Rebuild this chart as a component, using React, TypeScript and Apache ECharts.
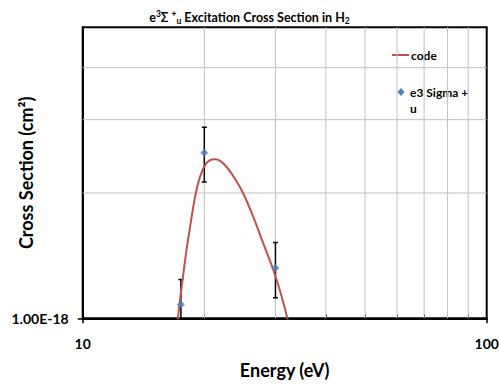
import React, { useEffect, useRef } from 'react';
import * as echarts from 'echarts';

// Model curve ("code")
const curveEnergy = [17.18, 17.41, 17.75, 18.09, 18.44, 18.97, 19.51, 20.08, 20.66, 21.26, 21.88, 22.72, 23.82, 24.98, 26.44, 27.99, 29.64, 31.09, 32.3];
const curveSigma = [0.99e-18, 1.106e-18, 1.282e-18, 1.47e-18, 1.658e-18, 1.957e-18, 2.186e-18, 2.332e-18, 2.397e-18, 2.41e-18, 2.388e-18, 2.309e-18, 2.164e-18, 1.994e-18, 1.752e-18, 1.513e-18, 1.306e-18, 1.127e-18, 0.98e-18];

// Measured points ("e3 Sigma + u")
const expEnergy = [17.5, 20, 30];
const expSigma = [1.08e-18, 2.5e-18, 1.32e-18];
const expError = [0.16e-18, 0.375e-18, 0.2e-18];

// Axis ticks / grid
const xMin = 10;
const xMax = 100;
const yMin = 1e-18;
const yMax = 5e-18;
const xMajorTicks = [10, 100];
const xMinorTicks = [20, 30, 40, 50, 60, 70, 80, 90];
const yGridValues = [2e-18, 3e-18, 4e-18];
const yTickLabels = [1e-18];

const FONT = 'Lato';
const GRID_COLOR = '#c0c0c0';

export default function App() {
  const ref = useRef<HTMLDivElement>(null);
  useEffect(() => {
    if (!ref.current) return;
    const chart = echarts.init(ref.current, null, { renderer: 'svg' });
    const baseX = { type: 'log', logBase: 10, min: xMin, max: xMax };
    chart.setOption({
      animation: false,
      backgroundColor: '#fff',
      title: {
        left: 'center',
        top: 4,
        text: '{n|e}{sup|3}{n|Σ }{sup|+}{sub|u}{n| Excitation Cross Section in H}{sub|2}',
        textStyle: {
          rich: {
            n: { fontFamily: FONT, fontWeight: 'bold', fontSize: 12.5, color: '#000', lineHeight: 16 },
            sup: { fontFamily: FONT, fontWeight: 'bold', fontSize: 8.5, color: '#000', lineHeight: 8, padding: [0, 0, 7, 0] },
            sub: { fontFamily: FONT, fontWeight: 'bold', fontSize: 8.5, color: '#000', lineHeight: 8, padding: [7, 0, 0, 0] },
          },
        },
      },
      grid: {
        left: 82.7, right: 12.3, top: 27.3, bottom: 67.7,
        containLabel: false,
        outerBoundsMode: 'none',
        show: true, borderColor: '#000', borderWidth: 2, backgroundColor: 'transparent',
      },
      xAxis: [
        {
          ...baseX,
          position: 'bottom',
          name: 'Energy (eV)',
          nameLocation: 'middle',
          nameGap: 43,
          nameMoveOverlap: false,
          nameTextStyle: { fontFamily: FONT, fontWeight: 'bold', fontSize: 18, color: '#000' },
          axisLine: { show: true, lineStyle: { color: '#000', width: 2 } },
          axisTick: { show: true, customValues: xMajorTicks, length: 5, lineStyle: { color: '#000', width: 1.5 } },
          axisLabel: { customValues: xMajorTicks, fontFamily: FONT, fontWeight: 'bold', fontSize: 14, color: '#000', margin: 18 },
          splitLine: { show: false },
        },
        {
          ...baseX,
          position: 'bottom',
          axisLine: { show: false },
          axisTick: { show: true, customValues: xMinorTicks, inside: true, length: 4, lineStyle: { color: '#000', width: 1 } },
          axisLabel: { show: false },
          splitLine: { show: false },
        },
      ],
      yAxis: {
        type: 'log', logBase: 10, min: yMin, max: yMax,
        name: 'Cross Section (cm²)',
        nameLocation: 'middle',
        nameRotate: 90,
        nameGap: 48,
        nameMoveOverlap: false,
        nameTextStyle: { fontFamily: FONT, fontWeight: 'bold', fontSize: 18, color: '#000' },
        axisLine: { show: true, lineStyle: { color: '#000', width: 2 } },
        axisTick: { show: true, customValues: yTickLabels, length: 5, lineStyle: { color: '#000', width: 1.5 } },
        axisLabel: {
          customValues: yTickLabels,
          fontFamily: FONT, fontWeight: 'bold', fontSize: 14, color: '#000', margin: 14,
          formatter: (v: number) => v.toExponential(2).toUpperCase(),
        },
        splitLine: { show: false },
      },
      graphic: [
        { type: 'line', shape: { x1: 392, y1: 55, x2: 409, y2: 55 }, style: { stroke: '#C0504D', lineWidth: 2 } },
        { type: 'text', x: 411, y: 55, style: { text: 'code', fontFamily: FONT, fontWeight: 'bold', fontSize: 12, fill: '#000', verticalAlign: 'middle' } },
        { type: 'polygon', shape: { points: [[401, 88], [404.5, 92], [401, 96], [397.5, 92]] }, style: { fill: '#4F81BD' } },
        { type: 'text', x: 410, y: 84, style: { text: 'e3 Sigma +\nu', fontFamily: FONT, fontWeight: 'bold', fontSize: 12, lineHeight: 16, fill: '#000', verticalAlign: 'top' } },
      ],
      series: [
        {
          type: 'custom',
          name: 'vgrid',
          silent: true,
          z: 1,
          data: xMinorTicks.map((v) => [v, yMin]),
          encode: { x: 0, y: 1 },
          renderItem: (params: any, api: any) => {
            const cs = params.coordSys;
            const p = api.coord([api.value(0), api.value(1)]);
            return { type: 'line', shape: { x1: p[0], y1: cs.y, x2: p[0], y2: cs.y + cs.height }, style: { stroke: GRID_COLOR, lineWidth: 1 } };
          },
        },
        {
          type: 'custom',
          name: 'hgrid',
          silent: true,
          z: 1,
          data: yGridValues.map((v) => [xMin, v]),
          encode: { x: 0, y: 1 },
          renderItem: (params: any, api: any) => {
            const cs = params.coordSys;
            const p = api.coord([api.value(0), api.value(1)]);
            return { type: 'line', shape: { x1: cs.x, y1: p[1], x2: cs.x + cs.width, y2: p[1] }, style: { stroke: GRID_COLOR, lineWidth: 1 } };
          },
        },
        {
          type: 'line',
          name: 'code',
          data: curveEnergy.map((e, i) => [e, curveSigma[i]]),
          showSymbol: false,
          symbol: 'none',
          smooth: 0.3,
          clip: true,
          z: 3,
          lineStyle: { color: '#C0504D', width: 2 },
        },
        {
          type: 'custom',
          name: 'err',
          clip: true,
          z: 3,
          data: expEnergy.map((e, i) => [e, expSigma[i] - expError[i], expSigma[i] + expError[i]]),
          encode: { x: 0, y: [1, 2] },
          renderItem: (params: any, api: any) => {
            const x = api.value(0);
            const lo = api.value(1);
            const hi = api.value(2);
            const pLo = api.coord([x, lo]);
            const pHi = api.coord([x, hi]);
            const w = 2.5;
            const style = { stroke: '#000', lineWidth: 1.5 };
            return {
              type: 'group',
              children: [
                { type: 'line', shape: { x1: pLo[0], y1: pLo[1], x2: pHi[0], y2: pHi[1] }, style },
                { type: 'line', shape: { x1: pHi[0] - w, y1: pHi[1], x2: pHi[0] + w, y2: pHi[1] }, style },
                { type: 'line', shape: { x1: pLo[0] - w, y1: pLo[1], x2: pLo[0] + w, y2: pLo[1] }, style },
              ],
            };
          },
        },
        {
          type: 'scatter',
          name: 'e3 Sigma + u',
          data: expEnergy.map((e, i) => [e, expSigma[i]]),
          symbol: 'diamond',
          symbolSize: 8,
          z: 4,
          itemStyle: { color: '#4F81BD' },
        },
      ],
    });
    return () => chart.dispose();
  }, []);
  return <div ref={ref} style={{ position: 'absolute', left: 0, top: 0, width: 499, height: 386 }} />;
}
